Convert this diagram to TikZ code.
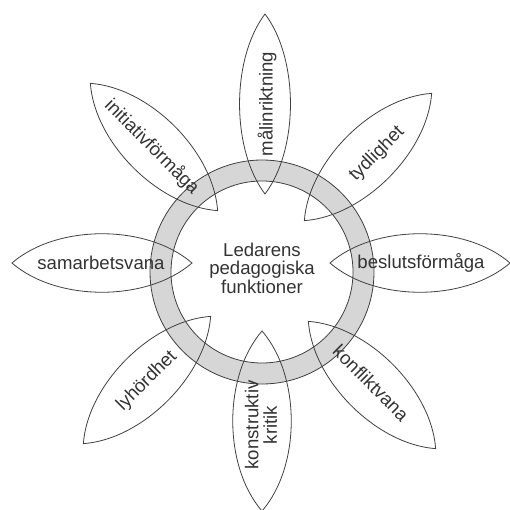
\documentclass[tikz,border=0pt]{standalone}
\usepackage{fontspec}
\setmainfont{Liberation Sans}
\usetikzlibrary{positioning}

\tikzset{
  lens/.pic={
    \draw[petal] (-90,0) .. controls (-45,39) and (45,39) .. (90,0)
                 .. controls (45,-39) and (-45,-39) .. (-90,0) -- cycle;
  }
}

\begin{document}
\begin{tikzpicture}[
  x=1pt, y=-1pt,
  font=\fontsize{18.6}{18.6}\selectfont,
  ring/.style={draw=black!75, line width=0.8pt, fill=black!16, even odd rule},
  petal/.style={draw=black!75, line width=0.8pt},
  label/.style={text=black!80, inner sep=0pt, align=center}
]
\useasboundingbox (0,0) rectangle (510,510);

% ring
\path[ring] (262,272) circle[radius=112] (262,272) circle[radius=91];

% petals
\pic[rotate=90, yscale=0.87] at (265,104) {lens};
\pic[rotate=45]  at (368,157) {lens};
\pic             at (420,263) {lens};
\pic[rotate=-45] at (372,385) {lens};
\pic[rotate=90]  at (262,421) {lens};
\pic[rotate=45]  at (147,380) {lens};
\pic             at (102,263) {lens};
\pic[rotate=-45] at (154,147) {lens};

% labels
\node[label] (center) at (262,268) {Ledarens\\pedagogiska\\funktioner};
\node[label, rotate=90]  (malinriktning) at (267,104) {målinriktning};
\node[label, rotate=45]  (tydlighet) at (377,154) {tydlighet};
\node[label]             (beslut) at (421,263) {beslutsförmåga};
\node[label, rotate=-45] (konflikt) at (371,383) {konfliktvana};
\node[label, rotate=90]  (kritik) at (261,425) {konstruktiv\\kritik};
\node[label, rotate=45]  (lyhordhet) at (147,381) {lyhördhet};
\node[label]             (samarbete) at (101,263) {samarbetsvana};
\node[label, rotate=-45] (initiativ) at (152,147) {initiativförmåga};
\end{tikzpicture}
\end{document}
